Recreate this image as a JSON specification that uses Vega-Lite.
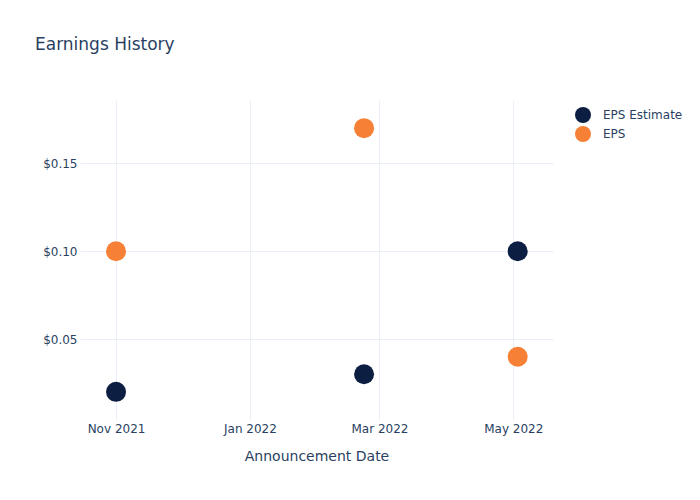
{
  "$schema": "https://vega.github.io/schema/vega-lite/v6.json",
  "autosize": "none",
  "width": 473,
  "height": 320,
  "padding": {"left": 80, "top": 100, "right": 147, "bottom": 80},
  "background": "white",
  "title": {
    "text": "Earnings History",
    "anchor": "start",
    "frame": "group",
    "dx": -45,
    "offset": 46,
    "fontSize": 17,
    "font": "DejaVu Sans",
    "fontWeight": "normal",
    "color": "#2a3f5f"
  },
  "config": {
    "view": {"stroke": null},
    "font": "DejaVu Sans"
  },
  "data": {
    "values": [
      {"date": "2021-11-01T00:00:00", "series": "EPS Estimate", "value": 0.02},
      {"date": "2022-02-22T00:00:00", "series": "EPS Estimate", "value": 0.03},
      {"date": "2022-05-03T00:00:00", "series": "EPS Estimate", "value": 0.10},
      {"date": "2021-11-01T00:00:00", "series": "EPS", "value": 0.10},
      {"date": "2022-02-22T00:00:00", "series": "EPS", "value": 0.17},
      {"date": "2022-05-03T00:00:00", "series": "EPS", "value": 0.04}
    ]
  },
  "mark": {"type": "circle", "size": 400, "opacity": 1},
  "encoding": {
    "x": {
      "field": "date",
      "type": "temporal",
      "scale": {"domain": [{"year": 2021, "month": 10, "date": 15, "hours": 14}, {"year": 2022, "month": 5, "date": 19, "hours": 2}]},
      "axis": {
        "title": "Announcement Date",
        "values": [{"year": 2021, "month": 11, "date": 1}, {"year": 2022, "month": 1, "date": 1}, {"year": 2022, "month": 3, "date": 1}, {"year": 2022, "month": 5, "date": 1}],
        "format": "%b %Y",
        "domain": false,
        "ticks": false,
        "grid": true,
        "gridColor": "#ebf0f8",
        "gridWidth": 1,
        "labelColor": "#2a3f5f",
        "labelFontSize": 12,
        "labelPadding": 3,
        "labelFont": "DejaVu Sans",
        "titleColor": "#2a3f5f",
        "titleFontSize": 14,
        "titleFontWeight": "normal",
        "titleFont": "DejaVu Sans",
        "titlePadding": 15
      }
    },
    "y": {
      "field": "value",
      "type": "quantitative",
      "scale": {"domain": [0.004, 0.186], "zero": false, "nice": false},
      "axis": {
        "title": null,
        "values": [0.05, 0.1, 0.15],
        "format": "$.2f",
        "domain": false,
        "ticks": false,
        "grid": true,
        "gridColor": "#ebf0f8",
        "gridWidth": 1,
        "labelColor": "#2a3f5f",
        "labelFontSize": 12,
        "labelPadding": 3,
        "labelFont": "DejaVu Sans"
      }
    },
    "color": {
      "field": "series",
      "type": "nominal",
      "scale": {"domain": ["EPS Estimate", "EPS"], "range": ["#0c1f42", "#f68036"]},
      "legend": {
        "title": null,
        "orient": "none",
        "legendX": 495,
        "legendY": 7,
        "symbolType": "circle",
        "symbolSize": 256,
        "symbolOpacity": 1,
        "symbolStrokeWidth": 0,
        "labelFontSize": 12,
        "labelColor": "#2a3f5f",
        "labelFont": "DejaVu Sans",
        "labelOffset": 12,
        "rowPadding": 3
      }
    }
  }
}
